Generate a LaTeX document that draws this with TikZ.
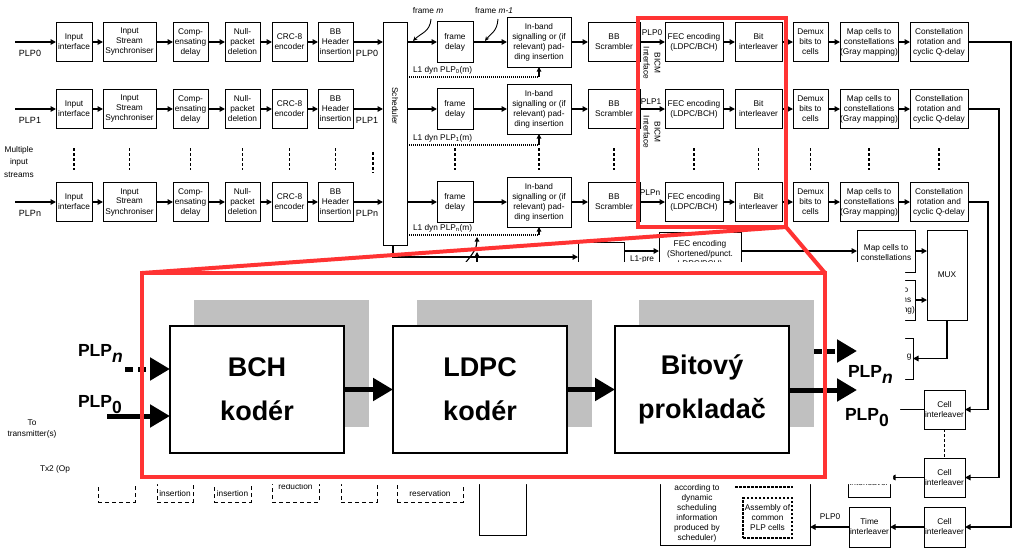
\documentclass[tikz,border=0pt]{standalone}
\usepackage{fontspec}
\setmainfont{Liberation Sans}
\usetikzlibrary{arrows.meta,calc}
\definecolor{zred}{RGB}{255,51,51}
\definecolor{shadowgray}{RGB}{192,192,192}
\newcommand\toprow[3]{%
  \node[blk,minimum width=36,minimum height=39] (A#1) at (74,#2) {Input\\interface};
  \node[blk,minimum width=53,minimum height=39] (B#1) at (129.5,#2) {Input\\Stream\\Synchroniser};
  \node[blk,minimum width=35,minimum height=39] (C#1) at (190.5,#2) {Comp-\\ensating\\delay};
  \node[blk,minimum width=35,minimum height=39] (D#1) at (242.5,#2) {Null-\\packet\\deletion};
  \node[blk,minimum width=35,minimum height=39] (E#1) at (289.5,#2) {CRC-8\\encoder};
  \node[blk,minimum width=35,minimum height=39] (F#1) at (335.5,#2) {BB\\Header\\insertion};
  \node[blk,minimum width=36,minimum height=41] (G#1) at (455,#2) {frame\\delay};
  \node[blk,minimum width=64,minimum height=50] (H#1) at (539,#2) {In-band\\signalling or (if\\relevant) pad-\\ding insertion};
  \node[blk,minimum width=52,minimum height=39] (I#1) at (614,#2) {BB\\Scrambler};
  \node[blk,minimum width=58,minimum height=39] (J#1) at (694,#2) {FEC encoding\\(LDPC/BCH)};
  \node[blk,minimum width=47,minimum height=39] (K#1) at (758.5,#2) {Bit\\interleaver};
  \node[blk,minimum width=35,minimum height=39] (L#1) at (810.5,#2) {Demux\\bits to\\cells};
  \node[blk,minimum width=58,minimum height=39] (M#1) at (869,#2) {Map cells to\\constellations\\(Gray mapping)};
  \node[blk,minimum width=58,minimum height=39] (N#1) at (939,#2) {Constellation\\rotation and\\cyclic Q-delay};
  \coordinate (in#1) at (15,#2);
  \draw[arr] (in#1) -- (A#1);
  \draw[arr] (A#1) -- (B#1);
  \draw[arr] (B#1) -- (C#1);
  \draw[arr] (C#1) -- (D#1);
  \draw[arr] (D#1) -- (E#1);
  \draw[arr] (E#1) -- (F#1);
  \draw[arr] (F#1) -- (F#1 -| S.west);
  \draw[arr] (G#1 -| S.east) -- (G#1);
  \draw[arr] (G#1) -- (H#1);
  \draw[arr] (H#1) -- (I#1);
  \draw[arr] (I#1) -- (J#1);
  \draw[arr] (J#1) -- (K#1);
  \draw[arr] (K#1) -- (L#1);
  \draw[arr] (L#1) -- (M#1);
  \draw[arr] (M#1) -- (N#1);
  \node[lbl] at (30,{#2+11}) {#3};
  \node[lbl] at (367,{#2+11}) {#3};
}
\begin{document}
\begin{tikzpicture}[x=1pt,y=-1pt,
  every node/.style={inner sep=0pt,outer sep=0pt},
  sf/.style={font=\fontsize{8.3}{10}\selectfont},
  blk/.style={draw,line width=1pt,align=center,sf},
  arr/.style={line width=1.8pt,-{Triangle[length=5.5pt,width=5.5pt]}},
  tarr/.style={line width=1.1pt,-{Triangle[length=4.5pt,width=4.5pt]}},
  farr/.style={line width=0.9pt,-{Stealth[length=4.5pt,width=4pt]}},
  ln/.style={line width=1.2pt},
  vdot/.style={line width=1.6pt,dash pattern=on 3pt off 2pt},
  dotl/.style={line width=1.3pt,dash pattern=on 1pt off 1pt},
  dbox/.style={draw,line width=0.8pt,dash pattern=on 4pt off 3pt},
  lbl/.style={font=\fontsize{9}{10}\selectfont},
  redbox/.style={draw=zred,line width=4pt},
  redl/.style={draw=zred,line width=4pt},
  shade/.style={fill=shadowgray,minimum width=175,minimum height=127},
  wbox/.style={draw,line width=1.2pt,fill=white,minimum width=174,minimum height=127,align=center,font=\bfseries\fontsize{27}{44}\selectfont},
  bigarr/.style={line width=5pt,-{Triangle[length=20pt,width=22pt]}},
  plp/.style={font=\bfseries\fontsize{17.5}{20}\selectfont}
]
\useasboundingbox (0,0) rectangle (1016,555);
\fill[white] (0,0) rectangle (1016,555);

% ---------- scheduler ----------
\node[blk,minimum width=24,minimum height=223] (S) at (395,133.5) {};
\node[sf,rotate=-90] at (395,106) {Scheduler};

% ---------- three rows ----------
\toprow{0}{42}{PLP0}
\toprow{1}{109}{PLP1}
\toprow{n}{202}{PLPn}

\node[sf,align=center,font=\fontsize{8.3}{12.5}\selectfont] at (19,162) {Multiple\\input\\streams};

% vertical continuation dots
\foreach \x in {74,129.5,190.5,242.5,289.5,335.5,455,539,614,694,758.5,810.5,869,939}
  \draw[vdot] (\x,148) -- (\x,170);
\draw[vdot] (373,152) -- (373,173);

% frame labels
\node[sf] at (428,11) {frame \textit{m}};
\node[sf] at (494,11) {frame \textit{m-1}};
\draw[farr] (431,19) .. controls (430,32) and (421,33) .. (413,41);
\draw[farr] (498,19) .. controls (497,32) and (491,33) .. (485,41);

% L1 dyn signalling
\coordinate (d0) at (539,77);
\coordinate (d1) at (539,145);
\coordinate (dn) at (539,235);
\draw[dotl] (d0 -| S.east) -- (d0);
\draw[dotl] (d1 -| S.east) -- (d1);
\draw[dotl] (dn -| S.east) -- (dn);
\draw[tarr] (d0) -- (H0);
\draw[tarr] (d1) -- (H1);
\draw[tarr] (dn) -- (Hn);
\node[sf,anchor=west] at (413,70) {L1 dyn PLP\textsubscript{0}(m)};
\node[sf,anchor=west] at (413,138) {L1 dyn PLP\textsubscript{1}(m)};
\node[sf,anchor=west] at (413,228) {L1 dyn PLP\textsubscript{n}(m)};

% BICM interface labels
\node[sf] at (652,33) {PLP0};
\node[sf] at (651,102) {PLP1};
\node[sf] at (650,193) {PLPn};
\node[sf,rotate=-90,align=center,font=\fontsize{8.3}{11}\selectfont] at (652,63) {BICM\\Interface};
\node[sf,rotate=-90,align=center,font=\fontsize{8.3}{11}\selectfont] at (652,132) {BICM\\Interface};

% ---------- lower part (partly covered) ----------
\node[blk,minimum width=46,minimum height=48] (L1B) at (601,266) {};
\node[blk,minimum width=82,minimum height=58] (FS) at (700,261) {};
\node[sf,align=center] at (700,254.5) {FEC encoding\\(Shortened/punct.\\LDPC/BCH)};
\node[blk,minimum width=58,minimum height=42] (MP1) at (886,251) {};
\node[sf,align=center] at (886,253) {Map cells to\\constellations};
\node[blk,minimum width=58,minimum height=40] (MP2) at (886,300) {Map cells to\\constellations\\(Gray mapping)};
\node[blk,minimum width=40,minimum height=90] (MUX) at (947,275) {MUX};
\node[blk,minimum width=63,minimum height=41] (TL) at (881.5,358.5) {};
\node[sf,anchor=east] at (911.5,357) {g};

\coordinate (yl) at (0,251);
\coordinate (ys) at (0,257);
\coordinate (sx) at (393,0);
\draw[arr] (S.south -| sx) |- (L1B.west |- ys);
\draw[arr] (L1B.east |- yl) -- (FS.west |- yl);
\node[sf] at (642,259) {L1-pre};
\draw[arr] (FS.east |- yl) -- (MP1.west |- yl);
\draw[arr] (MP1) -- (MP1 -| MUX.west);
\draw[arr] (MP2) -- (MP2 -| MUX.west);
\draw[arr] (MUX.south) |- (TL.east);
\draw[tarr] (466,262) .. controls (472,255) and (477,248) .. (477,237);
\draw[tarr] (477,263) -- (477,252);

% interleavers
\node[blk,minimum width=41,minimum height=39] (CI1) at (944.5,409.5) {Cell\\interleaver};
\node[blk,minimum width=41,minimum height=39] (CI2) at (944.5,477.5) {Cell\\interleaver};
\node[blk,minimum width=41,minimum height=40] (CI3) at (944.5,527) {Cell\\interleaver};
\node[blk,minimum width=41,minimum height=40] (TI3) at (869.5,527) {Time\\interleaver};
\node[blk,minimum width=42,minimum height=39] (TI2) at (869,477.5) {Time\\interleaver};
\draw[line width=1.2pt,dash pattern=on 3pt off 2pt] (CI1) -- (CI2);
\coordinate (c1l) at (880,409.5);
\draw[ln] (CI1) -- (c1l);
\draw[arr] (CI2) -- (TI2);
\draw[arr] (CI3) -- (TI3);

\coordinate (r0) at (1011,42);
\coordinate (r1) at (999,109);
\coordinate (rn) at (988,202);
\draw[arr] (N0) -- (r0) |- (CI3);
\draw[arr] (N1) -- (r1) |- (CI2);
\draw[arr] (Nn) -- (rn) |- (CI1);

% frame builder
\node[blk,minimum width=150,minimum height=105] (FB) at (735,492.5) {};
\node[sf,align=center] at (697,513) {according to\\dynamic\\scheduling\\information\\produced by\\scheduler)};
\node[sf,draw,line width=1.3pt,dash pattern=on 2.5pt off 1.5pt,minimum width=49,minimum height=40,align=center] (APC) at (767.5,518) {Assembly of\\common\\PLP cells};
\draw[line width=1.3pt,dash pattern=on 2.5pt off 1.5pt] (735,487) -- (793,487);
\draw[arr] (TI3) -- (TI3 -| FB.east);
\node[sf] at (830,517) {PLP0};

% OFDM chain (tops covered)
\node[blk,minimum width=47,minimum height=95] (OB) at (502.5,487.5) {};
\node[dbox,minimum width=37,minimum height=37] (P1) at (116.5,483.5) {};
\node[dbox,minimum width=36,minimum height=37] (P2) at (175,483.5) {};
\node[dbox,minimum width=37,minimum height=37] (P3) at (232.5,483.5) {};
\node[dbox,minimum width=47,minimum height=37] (P4) at (295.5,483.5) {};
\node[dbox,minimum width=36,minimum height=37] (P5) at (359,483.5) {};
\node[dbox,minimum width=66,minimum height=37] (P6) at (430,483.5) {};
\node[sf] at (175,494) {insertion};
\node[sf] at (232.5,494) {insertion};
\node[sf] at (295.5,487) {reduction};
\node[sf] at (430,494) {reservation};

\node[sf,align=center,font=\fontsize{8.3}{11}\selectfont] at (32,429) {To\\transmitter(s)};
\node[sf,anchor=west] at (40,469) {Tx2 (Op};

% ---------- white overlay with zoomed detail ----------
\fill[white] (72,262) -- (905,262) -- (905,405) -- (900,405) -- (900,470) -- (893,470) -- (893,484) -- (72,484) -- cycle;

\node[shade] (s1) at (281.5,363.5) {};
\node[shade] (s2) at (504.5,363.5) {};
\node[shade] (s3) at (726.5,363.5) {};
\node[wbox] (bch) at (257,389.5) {BCH\\kodér};
\node[wbox] (ldpc) at (480,389.5) {LDPC\\kodér};
\node[wbox] (bit) at (702,389.5) {Bitový\\prokladač};

\coordinate (inN) at (125,369);
\coordinate (in0s) at (107,416);
\draw[bigarr,dash pattern=on 8pt off 5pt] (inN) -- (inN -| bch.west);
\draw[bigarr] (in0s) -- (in0s -| bch.west);
\draw[bigarr] (bch) -- (ldpc);
\draw[bigarr] (ldpc) -- (bit);
\coordinate (outN) at (857,351);
\coordinate (out0) at (857,390);
\draw[bigarr,dash pattern=on 8pt off 5pt] (outN -| s3.east) -- (outN);
\draw[bigarr] (out0 -| bit.east) -- (out0);

\node[plp,anchor=base west] at (78,356) {PLP\raisebox{-6pt}{\textit{n}}};
\node[plp,anchor=base west] at (78,407) {PLP\raisebox{-6pt}{0}};
\node[plp,anchor=base west] at (848,377) {PLP\raisebox{-6pt}{\textit{n}}};
\node[plp,anchor=base west] at (845,420) {PLP\raisebox{-6pt}{0}};

% red zoom frames
\node[redbox,minimum width=148,minimum height=209] (zs) at (712,122.5) {};
\node[redbox,minimum width=683,minimum height=204] (zb) at (483.5,375) {};
\draw[redl] (zs.south east) -- (zb.north west);
\draw[redl] (zs.south east) -- (zb.north east);
\end{tikzpicture}
\end{document}
